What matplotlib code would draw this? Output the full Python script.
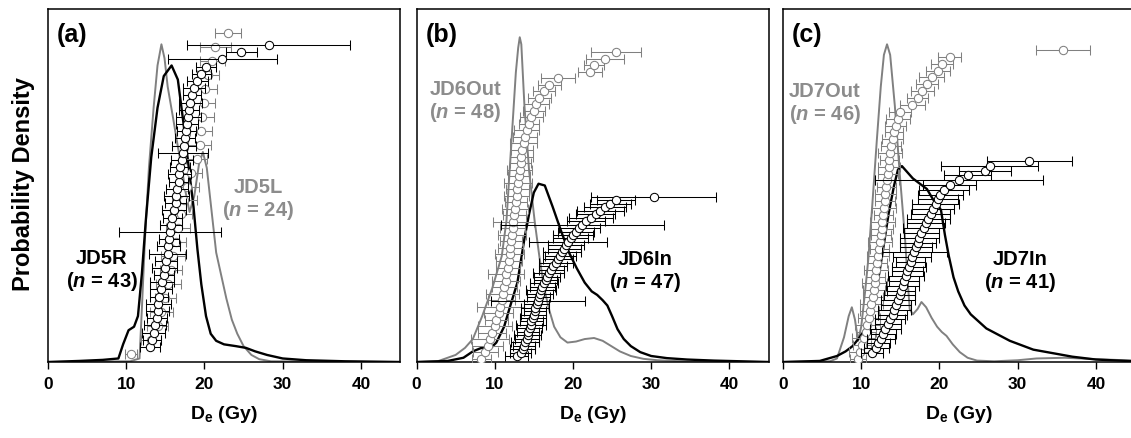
import matplotlib
matplotlib.use("Agg")
import matplotlib.pyplot as plt

plt.rcParams["font.family"] = ["Liberation Sans", "DejaVu Sans"]
plt.rcParams["font.weight"] = "bold"
plt.rcParams["mathtext.fontset"] = "custom"
plt.rcParams["mathtext.rm"] = "Liberation Sans:bold"
plt.rcParams["mathtext.bf"] = "Liberation Sans:bold"
plt.rcParams["mathtext.it"] = "Liberation Sans:italic:bold"

# ── Data: KDE curves (x in Gy, relative density) ─────────────────────
jd5l_kde_x = [0, 10.5, 11.7, 12.0, 12.4, 12.9, 13.5, 14.0, 14.5, 14.9, 15.3, 16.0, 16.6, 17.1,
              17.6, 18.1, 18.7, 19.3, 19.8, 20.3, 20.9, 21.5, 22.2, 22.8, 23.5, 24.2, 25.0,
              26.0, 27.0, 28.5, 45]
jd5l_kde_y = [0, 0.002, 0.01, 0.15, 0.35, 0.55, 0.72, 0.84, 0.90, 0.86, 0.78, 0.69, 0.61, 0.55,
              0.48, 0.425, 0.47, 0.56, 0.595, 0.55, 0.43, 0.31, 0.24, 0.18, 0.12, 0.08, 0.045,
              0.02, 0.008, 0.002, 0]
jd5r_kde_x = [0, 4.0, 7.0, 9.0, 9.6, 10.3, 11.0, 11.5, 12.0, 12.5, 13.2, 14.0, 14.8, 15.8,
              16.6, 17.3, 18.0, 18.6, 19.1, 19.6, 20.2, 20.8, 21.5, 22.5, 24.0, 25.3, 26.5,
              28.0, 30.0, 33.0, 38.0, 45]
jd5r_kde_y = [0, 0.003, 0.006, 0.01, 0.05, 0.09, 0.10, 0.13, 0.25, 0.40, 0.58, 0.72, 0.81, 0.84,
              0.80, 0.68, 0.55, 0.44, 0.32, 0.22, 0.13, 0.08, 0.06, 0.05, 0.045, 0.04, 0.03,
              0.02, 0.01, 0.005, 0.002, 0]

jd6out_kde_x = [0, 2.7, 5.0, 6.2, 7.2, 8.4, 9.7, 10.9, 11.5, 11.9, 12.3, 12.7, 13.0, 13.2, 13.4,
                13.8, 14.4, 15.1, 15.7, 16.3, 17.0, 17.6, 18.4, 19.3, 20.4, 21.5, 22.7, 23.8,
                24.9, 26.0, 27.4, 29.0, 30.8, 35.0, 45]
jd6out_kde_y = [0, 0.002, 0.02, 0.04, 0.065, 0.13, 0.21, 0.30, 0.40, 0.54, 0.68, 0.82, 0.89, 0.92,
                0.90, 0.725, 0.54, 0.40, 0.30, 0.21, 0.145, 0.10, 0.07, 0.055, 0.058, 0.065,
                0.068, 0.06, 0.045, 0.03, 0.017, 0.009, 0.005, 0.001, 0]
jd6in_kde_x = [0, 4.0, 6.0, 7.2, 8.3, 9.3, 10.2, 11.2, 12.0, 12.9, 13.8, 14.4, 15.0, 15.6, 16.4,
               17.4, 18.5, 19.5, 20.5, 21.5, 22.4, 23.1, 23.8, 24.4, 25.0, 25.7, 26.5, 27.4,
               28.6, 30.0, 32.0, 34.6, 38.0, 45]
jd6in_kde_y = [0, 0.003, 0.012, 0.03, 0.04, 0.035, 0.055, 0.10, 0.16, 0.225, 0.35, 0.42, 0.48,
               0.505, 0.50, 0.44, 0.37, 0.31, 0.265, 0.225, 0.20, 0.19, 0.175, 0.16, 0.13,
               0.093, 0.065, 0.045, 0.028, 0.017, 0.011, 0.007, 0.004, 0]

jd7out_kde_x = [0, 6.0, 6.9, 7.8, 8.4, 8.8, 9.2, 9.6, 10.0, 10.5, 10.9, 11.4, 12.0, 12.5, 12.9,
                13.3, 13.7, 14.3, 14.9, 15.6, 16.0, 16.2, 16.6, 17.2, 17.7, 18.3, 19.0, 19.7,
                20.3, 20.9, 21.7, 22.6, 23.6, 24.8, 27.0, 30.0, 32.4, 36.0, 40.0, 45]
jd7out_kde_y = [0, 0.002, 0.01, 0.07, 0.13, 0.155, 0.12, 0.06, 0.10, 0.20, 0.29, 0.44, 0.63, 0.78,
                0.87, 0.90, 0.87, 0.725, 0.54, 0.35, 0.21, 0.15, 0.135, 0.15, 0.17, 0.155, 0.125,
                0.10, 0.085, 0.074, 0.05, 0.028, 0.012, 0.004, 0.002, 0.005, 0.01, 0.012, 0.008,
                0.004]
jd7in_kde_x = [0, 4.7, 6.9, 8.0, 8.9, 9.8, 10.7, 11.4, 12.0, 12.8, 13.5, 14.2, 14.7, 15.2, 15.8,
               16.6, 17.5, 18.4, 19.2, 19.7, 20.2, 20.7, 21.2, 21.8, 22.4, 23.2, 24.0, 26.0,
               29.0, 32.0, 34.5, 37.0, 40.0, 45]
jd7in_kde_y = [0, 0.003, 0.017, 0.03, 0.045, 0.07, 0.10, 0.15, 0.21, 0.32, 0.42, 0.50, 0.545,
               0.555, 0.54, 0.52, 0.505, 0.49, 0.46, 0.45, 0.43, 0.36, 0.30, 0.24, 0.20, 0.16,
               0.135, 0.095, 0.06, 0.035, 0.025, 0.015, 0.007, 0.002]

# ── Data: individual De values (sorted) and 1-sigma errors (Gy) ──────
jd5r_de = [13.0, 13.3, 13.5, 13.7, 13.9, 14.0, 14.1, 14.2, 14.4, 14.6, 14.8, 14.9, 15.1, 15.3,
           15.4, 15.5, 15.6, 15.7, 15.9, 16.1, 16.3, 16.4, 16.5, 16.7, 16.8, 16.9, 17.1, 17.2,
           17.4, 17.5, 17.7, 17.8, 17.9, 18.0, 18.2, 18.4, 18.7, 19.1, 19.6, 20.2, 22.3, 24.7,
           28.2]
jd5r_err = [1.3, 1.2, 1.5, 1.4, 1.3, 1.5, 1.6, 1.2, 1.4, 1.5, 1.3, 1.6, 1.4, 2.4, 1.5, 1.3, 6.5,
            1.4, 1.2, 1.5, 1.3, 1.6, 1.4, 1.2, 1.5, 1.3, 1.4, 3.2, 1.5, 1.3, 1.2, 1.4, 1.6, 1.3,
            1.5, 1.2, 1.4, 1.3, 1.2, 1.3, 7.0, 2.0, 10.4]
jd5l_de = [10.6, 13.2, 14.0, 14.5, 15.0, 15.4, 15.7, 16.0, 16.3, 16.6, 17.0, 17.4, 17.8, 18.3,
           19.0, 19.4, 19.6, 19.7, 19.9, 20.1, 20.5, 21.0, 21.4, 23.0]
jd5l_err = [0.8, 1.3, 1.4, 1.5, 1.3, 1.6, 1.4, 1.5, 1.3, 1.5, 1.4, 1.6, 1.5, 1.4, 1.3, 1.5, 1.4,
            1.5, 1.4, 1.5, 1.4, 1.6, 2.0, 1.7]

jd6out_de = [8.3, 8.8, 9.1, 9.4, 9.7, 10.0, 10.2, 10.5, 10.7, 10.9, 11.0, 11.2, 11.4, 11.5, 11.7,
             11.8, 11.9, 12.0, 12.1, 12.2, 12.3, 12.4, 12.5, 12.6, 12.7, 12.8, 12.9, 13.0, 13.1,
             13.2, 13.3, 13.4, 13.5, 13.7, 13.9, 14.1, 14.4, 14.7, 15.0, 15.3, 15.7, 16.3, 17.0,
             18.1, 22.2, 22.7, 24.1, 25.5]
jd6out_err = [1.2, 1.6, 2.0, 2.4, 1.8, 2.2, 1.5, 1.9, 3.0, 1.7, 2.1, 1.6, 1.8, 2.3, 1.5, 1.7, 1.9,
              1.6, 1.4, 1.8, 1.6, 2.6, 1.5, 1.7, 1.4, 1.6, 1.5, 1.8, 1.4, 1.6, 1.3, 1.5, 1.4, 1.7,
              1.5, 1.6, 1.3, 1.5, 1.4, 1.6, 1.5, 1.4, 1.5, 2.2, 1.5, 1.3, 2.4, 3.2]
jd6in_de = [12.8, 13.3, 13.6, 13.8, 13.9, 14.1, 14.2, 14.3, 14.5, 14.6, 14.7, 14.9, 15.0, 15.1,
            15.2, 15.4, 15.5, 15.6, 15.8, 15.9, 16.1, 16.3, 16.5, 16.7, 16.9, 17.2, 17.5, 17.8,
            18.1, 18.4, 18.6, 18.9, 19.1, 19.4, 19.7, 20.0, 20.4, 20.8, 21.2, 21.7, 22.3, 22.9,
            23.5, 24.1, 24.8, 25.5, 30.3]
jd6in_err = [1.5, 1.3, 1.6, 1.4, 1.8, 1.5, 1.7, 1.4, 1.6, 1.9, 1.5, 1.7, 1.6, 1.4, 1.8, 1.6, 6.0,
             1.5, 1.7, 1.9, 1.6, 1.8, 1.5, 1.7, 2.0, 1.6, 1.8, 2.2, 1.9, 2.0, 2.4, 2.1, 2.3, 5.0,
             2.2, 2.5, 2.3, 2.6, 10.4, 2.4, 2.8, 2.5, 3.0, 2.7, 2.6, 2.4, 8.0]

jd7out_de = [9.6, 9.9, 10.1, 10.3, 10.6, 10.8, 11.0, 11.1, 11.3, 11.5, 11.6, 11.7, 11.8, 11.9,
             12.0, 12.2, 12.3, 12.4, 12.5, 12.6, 12.7, 12.8, 12.9, 13.0, 13.1, 13.2, 13.3, 13.4,
             13.5, 13.6, 13.7, 13.8, 14.0, 14.2, 14.4, 14.7, 15.0, 16.5, 17.2, 17.8, 18.4, 19.0,
             19.8, 20.3, 21.3, 35.8]
jd7out_err = [1.0, 1.4, 1.2, 1.5, 1.3, 1.6, 1.4, 1.2, 1.5, 1.3, 1.4, 1.6, 1.2, 1.5, 1.3, 1.4, 1.2,
              1.5, 1.3, 1.4, 1.6, 1.2, 1.5, 1.3, 1.4, 1.2, 1.5, 1.3, 1.4, 1.2, 1.5, 1.3, 1.4, 1.2,
              1.3, 1.5, 1.4, 1.6, 1.3, 1.5, 1.4, 1.6, 1.5, 1.4, 1.5, 3.5]
jd7in_de = [11.4, 11.9, 12.2, 12.5, 12.8, 13.1, 13.4, 13.7, 14.0, 14.2, 14.4, 14.7, 14.9, 15.1,
            15.3, 15.5, 15.7, 15.9, 16.1, 16.3, 16.5, 16.8, 17.0, 17.2, 17.4, 17.7, 18.0, 18.3,
            18.6, 18.9, 19.2, 19.5, 19.8, 20.1, 20.6, 21.3, 22.5, 23.6, 25.8, 26.4, 31.5]
jd7in_err = [1.4, 1.6, 1.5, 1.8, 1.6, 2.0, 1.7, 1.9, 1.8, 2.1, 1.9, 2.2, 2.0, 1.8, 2.1, 1.9, 2.3,
             2.0, 2.2, 1.9, 2.4, 4.2, 2.1, 2.3, 2.5, 2.2, 2.6, 2.4, 2.8, 2.5, 2.7, 3.0, 2.6, 2.9,
             3.2, 3.4, 10.8, 3.0, 3.3, 6.2, 5.4]

# ── Style / layout ───────────────────────────────────────────────────
W, H = 1131, 439
AX_TOP, AX_BOT = 10, 363          # pixel rows of panel frame
AX_W = 352
LEFTS = [48, 416.5, 783]
GRAY = "#808080"
GRAY_TXT = "#8c8c8c"
BLACK = "#000000"

panels = [
    dict(tag="(a)",
         kdes=[(jd5l_kde_x, jd5l_kde_y, GRAY, 1.4), (jd5r_kde_x, jd5r_kde_y, BLACK, 1.7)],
         # (values, errors, colour, pixel row of first point, pixel row of last point)
         pts=[(jd5l_de, jd5l_err, GRAY, 355, 34), (jd5r_de, jd5r_err, BLACK, 348, 46)],
         labels=[("JD5R", "43", BLACK, 0.153, 0.26), ("JD5L", "24", GRAY_TXT, 0.597, 0.462)]),
    dict(tag="(b)",
         kdes=[(jd6out_kde_x, jd6out_kde_y, GRAY, 1.4), (jd6in_kde_x, jd6in_kde_y, BLACK, 1.7)],
         pts=[(jd6out_de, jd6out_err, GRAY, 360, 53), (jd6in_de, jd6in_err, BLACK, 357, 198)],
         labels=[("JD6Out", "48", GRAY_TXT, 0.138, 0.739), ("JD6In", "47", BLACK, 0.649, 0.258)]),
    dict(tag="(c)",
         kdes=[(jd7out_kde_x, jd7out_kde_y, GRAY, 1.4), (jd7in_kde_x, jd7in_kde_y, BLACK, 1.7)],
         pts=[(jd7out_de, jd7out_err, GRAY, 360, 51), (jd7in_de, jd7in_err, BLACK, 354, 162)],
         labels=[("JD7Out", "46", GRAY_TXT, 0.119, 0.734), ("JD7In", "41", BLACK, 0.673, 0.258)]),
]

fig = plt.figure(figsize=(W / 100, H / 100), dpi=100)
fig.patch.set_facecolor("white")

for i, p in enumerate(panels):
    rect = [LEFTS[i] / W, (H - AX_BOT) / H, AX_W / W, (AX_BOT - AX_TOP) / H]
    ax = fig.add_axes(rect)
    ax.set_xlim(0, 45)
    ax.set_ylim(0, 1)
    for kx, ky, c, lw in p["kdes"]:
        ax.plot(kx, ky, color=c, lw=lw, zorder=1)

    # individual De values on their own rank axes
    for de, err, c, row_lo, row_hi in p["pts"]:
        n = len(de)
        f_lo = (AX_BOT - row_lo) / (AX_BOT - AX_TOP)
        f_hi = (AX_BOT - row_hi) / (AX_BOT - AX_TOP)
        step = (f_hi - f_lo) / (n - 1)
        tw = ax.twinx()
        tw.set_ylim(1 - f_lo / step, 1 + (1 - f_lo) / step)
        tw.axis("off")
        ranks = list(range(1, n + 1))
        tw.errorbar(de, ranks, xerr=err, fmt="o", color=c, ecolor=c, elinewidth=0.75,
                    capsize=3.4, capthick=0.75, markersize=6.0, markeredgewidth=0.75,
                    markerfacecolor="white", markeredgecolor=c)

    ax.set_xticks([0, 10, 20, 30, 40])
    ax.tick_params(axis="x", direction="out", length=5, width=1, pad=5, labelsize=12.5)
    ax.set_yticks([])
    for sp in ax.spines.values():
        sp.set_linewidth(1.1)
    ax.set_xlabel(r"D$_\mathrm{e}$ (Gy)", fontsize=14, fontweight="bold", labelpad=9)

    ax.text(0.025, 0.962, p["tag"], transform=ax.transAxes, fontsize=18,
            fontweight="bold", ha="left", va="top")
    for name, n_txt, c, tx, ty in p["labels"]:
        ax.text(tx, ty, f"{name}\n($n$ = {n_txt})", transform=ax.transAxes, color=c,
                fontsize=14.5, fontweight="bold", ha="center", va="center", linespacing=1.15,
                zorder=5)

fig.text(24 / W, 1 - 184 / H, "Probability Density", rotation=90, fontsize=17,
         fontweight="bold", ha="center", va="center")

fig.savefig("out.png", dpi=100, facecolor="white")
